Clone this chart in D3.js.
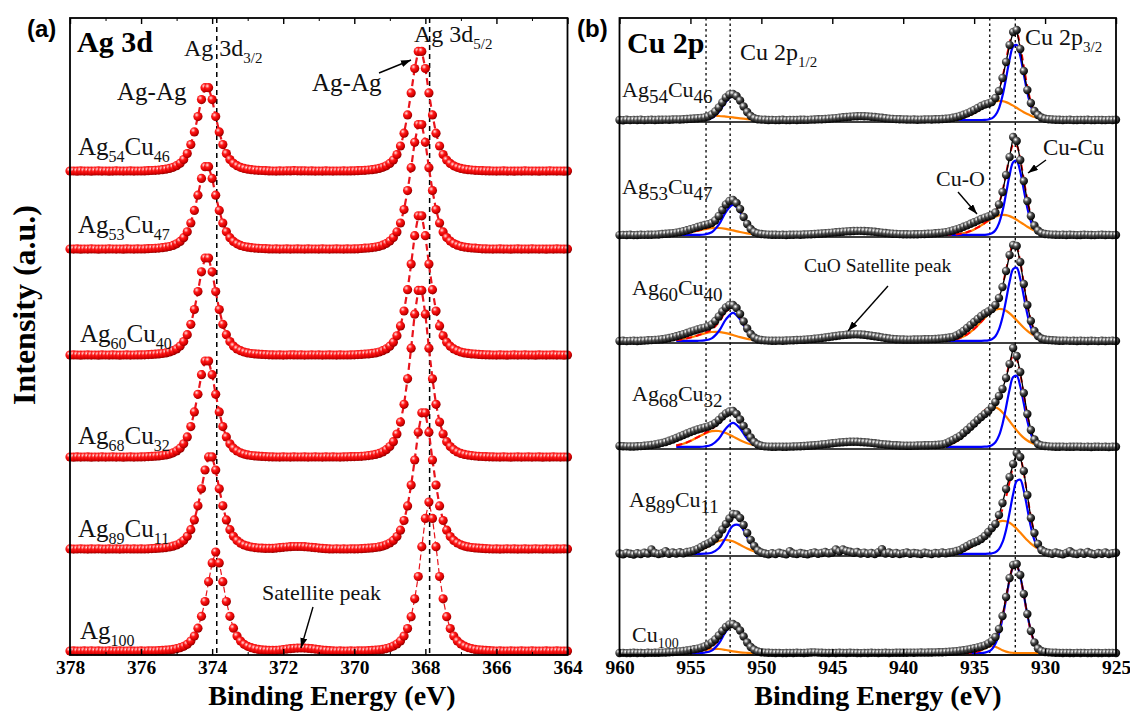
<!DOCTYPE html>
<html>
<head>
<meta charset="utf-8">
<script src="https://cdn.jsdelivr.net/npm/d3@7"></script>
<style>
  body { margin: 0; background: #fff; }
</style>
</head>
<body>
<script>
// ---------------- panel (a): Ag 3d, 378 -> 364 eV, 0.1 eV steps ----------------
const agLabels = [['Ag','54','Cu','46'], ['Ag','53','Cu','47'], ['Ag','60','Cu','40'],
                  ['Ag','68','Cu','32'], ['Ag','89','Cu','11'], ['Ag','100']];
const agOffset = [483.5, 405.5, 299.5, 197.5, 105.5, 3.5];
const agTicks = [378, 376, 374, 372, 370, 368, 366, 364];
const agMinor = [377, 375, 373, 371, 369, 367, 365];
const agRefLines = [373.87, 367.88];

const agS54 = [0.4,0.5,0.3,0.6,0.4,0.5,0.3,0.5,0.6,0.4,
 0.5,0.3,0.4,0.6,0.5,0.4,0.5,0.6,0.4,0.5,
 0.5,0.6,0.8,1.0,1.2,1.4,1.8,2.3,3.1,4.2,
 5.8,8.2,12.0,17.9,26.9,39.6,54.9,71.9,83.8,83.8,
 71.9,54.9,39.6,26.9,17.9,12.0,8.2,5.8,4.2,3.1,
 2.3,1.8,1.4,1.2,1.0,0.8,0.6,0.5,0.4,0.6,
 0.5,0.7,0.6,0.8,0.7,0.6,0.7,0.5,0.6,0.4,
 0.5,0.4,0.6,0.5,0.4,0.5,0.5,0.6,0.5,0.6,
 0.7,0.8,1.0,1.2,1.5,1.8,2.3,3.1,4.2,5.7,
 8.1,11.5,17.0,25.5,38.3,56.6,78.6,103.0,120.1,120.1,
 103.0,78.6,56.6,38.3,25.5,17.0,11.5,8.1,5.7,4.2,
 3.1,2.3,1.8,1.5,1.2,1.0,0.8,0.7,0.6,0.5,
 0.4,0.5,0.6,0.4,0.5,0.3,0.5,0.4,0.6,0.5,
 0.4,0.5,0.3,0.5,0.4,0.6,0.5,0.4,0.5,0.3,0.4];

const agS53 = [0.5,0.4,0.6,0.3,0.5,0.4,0.6,0.5,0.3,0.5,
 0.4,0.6,0.5,0.4,0.5,0.3,0.6,0.5,0.4,0.6,
 0.5,0.6,0.8,1.0,1.2,1.4,1.8,2.3,3.0,4.1,
 5.7,8.1,11.8,17.7,26.5,39.1,54.3,71.1,82.8,82.8,
 71.1,54.3,39.1,26.5,17.7,11.8,8.1,5.7,4.1,3.0,
 2.3,1.8,1.4,1.2,1.0,0.8,0.6,0.5,0.6,0.4,
 0.5,0.6,0.4,0.5,0.6,0.5,0.4,0.6,0.5,0.5,
 0.4,0.6,0.5,0.4,0.5,0.6,0.5,0.4,0.6,0.5,
 0.6,0.7,1.0,1.3,1.5,1.9,2.4,3.2,4.3,6.0,
 8.4,11.9,17.6,26.5,39.9,58.9,81.8,107.2,125.0,125.0,
 107.2,81.8,58.9,39.9,26.5,17.6,11.9,8.4,6.0,4.3,
 3.2,2.4,1.9,1.5,1.3,1.0,0.7,0.6,0.5,0.4,
 0.5,0.6,0.4,0.5,0.3,0.5,0.6,0.4,0.5,0.4,
 0.6,0.5,0.4,0.5,0.3,0.5,0.4,0.6,0.5,0.4,0.5];

const agS60 = [0.4,0.6,0.5,0.3,0.5,0.6,0.4,0.5,0.3,0.6,
 0.5,0.4,0.6,0.5,0.3,0.5,0.6,0.4,0.5,0.6,
 0.6,0.7,0.9,1.1,1.3,1.6,2.0,2.6,3.5,4.8,
 6.6,9.4,13.9,20.8,31.2,46.0,63.9,83.7,97.5,97.5,
 83.7,63.9,46.0,31.2,20.8,13.9,9.4,6.6,4.8,3.5,
 2.6,2.0,1.6,1.3,1.1,0.9,0.7,0.6,0.5,0.6,
 0.4,0.5,0.7,0.6,0.5,0.6,0.4,0.5,0.6,0.5,
 0.6,0.4,0.5,0.6,0.5,0.4,0.6,0.5,0.5,0.6,
 0.7,0.9,1.1,1.4,1.6,2.1,2.6,3.5,4.8,6.6,
 9.3,13.3,19.7,29.6,44.5,65.8,91.4,119.8,139.7,139.7,
 119.8,91.4,65.8,44.5,29.6,19.7,13.3,9.3,6.6,4.8,
 3.5,2.6,2.1,1.6,1.4,1.1,0.8,0.7,0.6,0.5,
 0.4,0.6,0.5,0.3,0.5,0.6,0.4,0.5,0.6,0.4,
 0.5,0.3,0.6,0.5,0.4,0.5,0.6,0.4,0.5,0.3,0.5];

const agS68 = [0.5,0.3,0.6,0.4,0.5,0.6,0.3,0.5,0.4,0.6,
 0.4,0.5,0.6,0.4,0.5,0.3,0.5,0.6,0.4,0.5,
 0.6,0.7,0.9,1.1,1.3,1.6,2.0,2.6,3.4,4.7,
 6.6,9.3,13.7,20.6,30.9,45.6,63.2,82.8,96.5,96.5,
 82.8,63.2,45.6,30.9,20.6,13.7,9.3,6.6,4.7,3.4,
 2.6,2.0,1.6,1.3,1.1,0.9,0.7,0.6,0.5,0.4,
 0.6,0.5,0.4,0.6,0.5,0.5,0.6,0.4,0.5,0.6,
 0.5,0.4,0.6,0.5,0.6,0.5,0.4,0.6,0.7,0.8,
 0.9,1.0,1.2,1.5,1.9,2.4,3.1,4.1,5.6,7.8,
 11.0,15.8,23.5,35.4,53.2,78.7,109.3,143.3,167.1,167.1,
 143.3,109.3,78.7,53.2,35.4,23.5,15.8,11.0,7.8,5.6,
 4.1,3.1,2.4,1.9,1.5,1.2,1.0,0.8,0.7,0.6,
 0.5,0.4,0.6,0.5,0.3,0.5,0.6,0.4,0.5,0.6,
 0.4,0.5,0.6,0.3,0.5,0.4,0.6,0.5,0.4,0.5,0.4];

const agS89 = [0.6,0.4,0.5,0.7,0.5,0.4,0.6,0.5,0.7,0.5,
 0.4,0.6,0.5,0.6,0.4,0.5,0.7,0.5,0.6,0.5,
 0.6,0.5,0.7,0.9,1.1,1.3,1.5,1.9,2.5,3.3,
 4.5,6.3,9.0,13.2,19.8,29.6,43.7,60.7,79.5,92.6,
 92.6,79.5,60.7,43.7,29.6,19.8,13.2,9.0,6.3,4.5,
 3.3,2.5,1.9,1.5,1.3,1.1,1.2,1.1,1.4,1.8,
 2.2,2.5,2.8,3.0,3.0,3.0,2.8,2.5,2.2,1.8,
 1.4,1.1,0.8,0.6,0.5,0.7,0.5,0.6,0.5,0.7,
 0.6,0.7,0.8,1.1,1.3,1.6,2.0,2.6,3.4,4.7,
 6.5,9.1,13.0,19.3,29.0,43.6,64.4,89.5,117.3,136.7,
 136.7,117.3,89.5,64.4,43.6,29.0,19.3,13.0,9.1,6.5,
 4.7,3.4,2.6,2.0,1.6,1.3,1.1,0.8,0.7,0.5,
 0.6,0.4,0.5,0.7,0.5,0.6,0.4,0.5,0.6,0.4,
 0.5,0.7,0.5,0.4,0.6,0.5,0.4,0.6,0.5,0.7,0.5];

const agS100 = [0.5,0.6,0.4,0.5,0.6,0.5,0.7,0.5,0.6,0.4,
 0.5,0.6,0.5,0.4,0.6,0.5,0.5,0.6,0.4,0.5,
 0.6,0.5,0.6,0.7,0.6,0.9,1.1,1.3,1.6,2.1,
 2.8,3.8,5.2,7.2,10.4,15.4,23.3,35.2,50.0,69.8,
 88.6,99.5,88.6,69.8,50.0,35.2,23.3,15.4,10.4,7.2,
 5.2,3.8,2.8,2.1,1.6,1.3,1.1,1.2,1.1,1.5,
 1.9,2.4,2.8,3.2,3.4,3.5,3.4,3.2,2.8,2.4,
 1.9,1.5,1.1,0.8,0.6,0.5,0.6,0.4,0.5,0.6,
 0.5,0.6,0.7,0.6,0.8,1.1,1.4,1.7,2.1,2.9,
 3.9,5.4,7.5,10.6,15.4,22.9,34.8,52.7,75.0,104.8,
 133.1,149.5,133.1,104.8,75.0,52.7,34.8,22.9,15.4,10.6,
 7.5,5.4,3.9,2.9,2.1,1.7,1.4,1.1,0.8,0.6,
 0.5,0.6,0.4,0.5,0.6,0.5,0.4,0.6,0.5,0.4,
 0.6,0.5,0.4,0.5,0.6,0.4,0.5,0.6,0.5,0.4,0.5];

const agSeries = [agS54, agS53, agS60, agS68, agS89, agS100];

// ---------------- panel (b): Cu 2p, 960 -> 925 eV, 0.25 eV steps ----------------
const cuLabels = [['Ag','54','Cu','46'], ['Ag','53','Cu','47'], ['Ag','60','Cu','40'],
                  ['Ag','68','Cu','32'], ['Ag','89','Cu','11'], ['Cu','100']];
const cuOffset = [534, 419, 313, 207, 100, 1];
const cuBg = [1.0, 1.1, 1.2, 1.2, 1.2, 1.0];
const cuTicks = [960, 955, 950, 945, 940, 935, 930, 925];
const cuRefLines = [953.9, 952.2, 933.9, 932.1];

const cuS54 = [1.0,0.8,1.2,0.9,1.1,1.0,1.3,0.9,1.1,1.2,
 1.0,1.3,1.2,1.4,1.3,1.5,1.6,1.5,1.8,2.0,
 2.2,2.5,2.8,3.1,3.5,4.5,6.5,9.5,13.5,18.5,
 23.5,26.5,27.0,25.0,20.5,14.5,9.0,5.0,2.8,1.8,
 1.4,1.2,1.0,1.1,0.9,1.0,1.2,0.9,1.0,1.1,
 1.0,1.2,1.3,1.1,1.4,1.5,1.7,1.8,2.0,2.3,
 2.6,2.9,3.3,3.7,4.0,4.3,4.6,4.8,4.9,4.8,
 4.6,4.3,4.0,3.6,3.2,2.8,2.4,2.1,1.9,1.7,
 1.6,1.5,1.4,1.5,1.3,1.4,1.5,1.6,1.5,1.7,
 1.8,2.0,2.2,2.6,3.2,4.0,5.0,6.2,7.6,9.2,
 11.0,13.0,15.0,16.5,17.5,19.0,23.0,30.0,43.0,59.0,
 76.0,89.0,91.0,72.0,50.0,31.0,18.0,10.0,6.0,3.5,
 2.2,1.8,1.5,1.3,1.2,1.0,1.1,1.2,0.9,1.0,
 1.1,1.0,1.2,0.9,1.0,1.1,1.0,0.9,1.1,1.0,1.2];

const cuS53 = [0.9,1.1,1.0,1.2,0.9,1.0,1.2,1.1,1.3,1.2,
 1.4,1.5,2.0,2.2,2.5,2.9,3.4,4.0,4.8,5.7,
 6.8,7.9,9.0,10.0,11.0,11.8,13.0,15.5,20.0,26.0,
 31.5,35.0,36.0,33.0,27.0,19.0,12.0,7.0,4.0,2.6,
 2.0,1.6,1.4,1.2,1.3,1.1,1.2,1.0,1.3,1.2,
 1.4,1.3,1.5,1.6,1.8,2.0,2.2,2.5,2.8,3.1,
 3.4,3.7,4.0,4.3,4.6,4.8,5.0,5.1,5.1,5.0,
 4.8,4.5,4.2,3.8,3.4,3.0,2.6,2.3,2.1,1.9,
 1.8,1.7,1.6,1.8,1.7,1.9,2.0,2.2,2.4,2.7,
 3.0,3.4,3.9,4.6,5.5,6.6,7.8,9.2,10.6,12.2,
 13.8,15.4,17.0,18.4,19.5,20.8,23.5,31.5,44.0,61.0,
 79.0,99.0,95.0,76.0,55.0,35.0,20.0,10.5,5.5,3.0,
 2.0,1.6,1.4,1.2,1.1,1.3,1.0,1.2,1.1,0.9,
 1.0,1.2,1.1,1.0,0.9,1.1,1.2,1.0,1.1,0.9,1.0];

const cuS60 = [1.0,1.2,0.9,1.1,1.3,1.0,1.2,1.4,1.8,1.9,
 2.1,2.4,2.8,3.3,4.0,4.8,5.7,6.7,7.8,9.0,
 10.2,11.4,12.5,13.5,14.4,15.5,17.5,21.0,25.5,30.5,
 34.5,37.0,37.0,34.0,28.0,20.5,13.5,8.0,4.5,2.8,
 2.0,1.6,1.4,1.3,1.2,1.4,1.3,1.5,1.6,1.8,
 2.0,2.1,2.3,2.6,2.9,3.2,3.6,4.0,4.5,5.0,
 5.5,6.0,6.5,6.9,7.2,7.5,7.6,7.6,7.5,7.2,
 6.8,6.3,5.8,5.2,4.6,4.0,3.5,3.1,2.8,2.6,
 2.5,2.4,2.4,2.5,2.5,2.6,2.7,2.8,2.9,3.0,
 3.2,3.6,4.0,4.5,5.0,6.5,8.5,11.0,14.0,17.0,
 20.0,23.0,26.0,28.5,30.5,33.0,37.0,44.0,55.0,71.0,
 87.0,97.0,96.0,80.0,58.0,37.0,21.0,11.0,6.0,3.5,
 2.5,2.0,1.7,1.5,1.3,1.2,1.4,1.1,1.2,1.0,
 1.3,1.1,1.0,1.2,1.1,0.9,1.2,1.0,1.1,1.2,1.0];

const cuS68 = [2.0,1.8,1.6,1.5,1.5,1.7,1.9,2.2,2.6,3.0,
 3.6,4.3,5.1,6.0,7.2,8.5,10.0,11.5,13.0,14.5,
 16.0,17.2,18.5,19.5,20.5,21.5,23.0,25.0,28.0,31.5,
 34.5,36.5,37.0,34.0,28.5,22.0,16.0,10.5,6.0,3.5,
 2.2,1.6,1.4,1.3,1.2,1.4,1.3,1.2,1.4,1.5,
 1.6,1.8,2.0,2.2,2.5,2.8,3.1,3.5,3.9,4.3,
 4.7,5.1,5.5,5.8,6.0,6.2,6.3,6.2,6.0,5.8,
 5.5,5.1,4.7,4.3,3.9,3.5,3.2,2.9,2.7,2.5,
 2.4,2.3,2.3,2.4,2.5,2.6,2.7,2.8,2.9,3.0,
 3.2,3.6,4.5,6.2,8.0,10.0,12.0,15.0,18.0,21.2,
 24.5,28.0,31.0,34.0,37.0,41.0,46.0,52.0,59.0,70.0,
 84.0,100.0,92.0,76.0,55.0,34.0,18.0,8.5,4.0,2.5,
 2.0,1.6,1.4,1.3,1.2,1.4,1.1,1.3,1.2,1.4,
 1.2,1.1,1.3,1.0,1.2,1.3,1.1,1.2,1.0,1.3,1.2];

const cuS89 = [1.5,0.8,2.0,1.2,0.5,1.8,1.0,2.2,1.4,5.5,
 2.0,1.0,1.8,3.8,1.2,2.5,1.5,2.8,1.8,3.0,
 3.5,4.5,6.0,8.0,10.0,11.5,13.5,16.5,20.5,25.5,
 31.0,36.5,41.0,40.5,37.0,30.0,22.0,15.0,9.0,4.5,
 2.5,1.5,0.8,1.8,1.0,2.2,1.4,0.6,3.8,1.5,
 1.0,2.0,1.2,0.7,1.8,2.6,1.3,2.0,3.0,1.8,
 2.5,5.5,3.5,5.5,4.0,3.2,2.2,3.0,1.5,2.4,
 1.2,2.0,1.0,2.8,5.8,1.5,2.5,1.2,2.0,1.0,
 1.8,2.6,1.2,2.0,1.5,1.0,2.3,1.6,1.0,2.0,
 1.5,2.5,1.8,2.5,3.0,4.0,5.0,7.0,9.0,11.0,
 12.5,14.0,16.0,19.0,23.0,27.0,31.0,40.0,52.0,66.0,
 78.0,91.0,102.0,98.0,84.0,60.0,37.0,22.0,11.0,5.0,
 3.0,2.0,1.2,2.5,1.5,0.8,2.0,3.8,1.5,1.0,
 2.2,1.2,3.0,1.5,0.8,2.0,1.2,2.5,1.0,1.8,2.2];

const cuS100 = [1.0,1.1,0.9,1.0,1.2,1.0,1.1,0.9,1.2,1.1,
 1.2,1.3,1.4,1.5,1.7,1.9,2.2,2.6,3.0,3.5,
 4.1,4.7,5.4,6.3,7.5,9.2,11.5,14.5,18.5,23.0,
 27.0,29.5,30.0,28.0,23.5,17.5,11.5,7.0,4.2,2.6,
 1.8,1.4,1.2,1.1,1.0,1.1,0.9,1.0,1.1,1.0,
 1.2,1.1,1.0,1.3,1.5,1.6,1.4,1.2,1.1,1.0,
 1.1,1.0,1.2,1.1,1.0,1.2,1.1,1.0,0.9,1.1,
 1.0,1.2,1.1,1.0,1.1,1.2,1.0,1.1,1.2,1.3,
 1.2,1.3,1.4,1.3,1.4,1.5,1.4,1.5,1.5,1.6,
 1.7,1.8,2.0,2.2,2.5,2.8,3.2,3.7,4.3,5.0,
 5.8,6.6,7.5,8.6,10.5,13.0,17.0,25.0,38.0,57.0,
 76.0,89.0,90.0,79.0,60.0,40.0,23.0,11.5,5.5,3.0,
 2.0,1.6,1.4,1.2,1.1,1.0,1.1,1.0,0.9,1.1,
 1.0,1.1,0.9,1.0,1.1,1.0,0.9,1.1,1.0,1.1,1.0];

const cuSeries = [cuS54, cuS53, cuS60, cuS68, cuS89, cuS100];

// fitted components, Cu 2p3/2 window 937 -> 929.5 eV (0.25 eV)
const blue32 = [
 [0,0,0,0,0,0,0,0,0,0,0,0.1,0.5,1.6,4.8,11.7,24.2,41.8,60.6,73.6,74.9,63.9,45.7,27.4,13.8,5.8,2.1,0.6,0.2,0,0],
 [0,0,0,0,0,0,0,0,0,0,0,0.1,0.5,1.6,4.7,11.6,23.9,41.3,59.8,72.7,74.0,63.1,45.1,27.0,13.6,5.7,2.0,0.6,0.2,0,0],
 [0,0,0,0,0,0,0,0,0,0,0,0.1,0.4,1.6,4.6,11.4,23.5,40.7,59.0,71.7,73.0,62.2,44.5,26.6,13.4,5.6,2.0,0.6,0.1,0,0],
 [0,0,0,0,0,0,0,0,0,0,0,0.1,0.4,1.5,4.5,11.1,22.9,39.6,57.4,69.8,71.0,60.6,43.3,25.9,13.0,5.5,1.9,0.6,0.1,0,0],
 [0,0,0,0,0,0,0,0,0,0,0,0,0.1,0.5,1.6,4.7,11.6,23.9,41.3,59.8,72.7,74.0,63.1,45.1,27.0,13.6,5.7,2.0,0.6,0.2,0],
 [0,0,0,0,0,0,0,0,0,0,0,0.4,1.4,3.8,9.2,19.1,34.6,54.0,73.1,85.7,86.9,76.4,58.1,38.2,21.8,10.7,4.6,1.7,0.5,0.2,0]];
const orange32 = [
 [0.2,0.4,0.7,1.1,1.7,2.6,3.7,5.2,7.0,9.1,11.3,13.5,15.6,17.3,18.5,19.0,18.8,17.9,16.3,14.4,12.2,9.9,7.8,5.9,4.3,3.0,2.0,1.3,0.8,0.5,0.3],
 [0.1,0.2,0.4,0.7,1.1,1.8,2.7,3.9,5.5,7.4,9.5,11.9,14.2,16.4,18.2,19.5,20.0,19.8,18.8,17.2,15.1,12.8,10.5,8.2,6.2,4.5,3.1,2.1,1.4,0.9,0.5],
 [0.4,0.7,1.1,1.8,2.8,4.3,6.3,8.8,11.8,15.3,19.0,22.8,26.3,29.2,31.1,32.0,31.6,30.1,27.5,24.2,20.5,16.7,13.1,9.9,7.2,5.0,3.4,2.2,1.4,0.8,0.5],
 [1.4,2.3,3.6,5.4,7.8,11.0,14.8,19.1,23.8,28.5,32.8,36.4,38.9,40.0,39.5,37.6,34.4,30.3,25.7,20.9,16.4,12.4,9.0,6.3,4.2,2.7,1.7,1.0,0.6,0.3,0.2],
 [0.2,0.4,0.7,1.2,1.9,2.9,4.5,6.5,9.0,12.2,15.7,19.6,23.5,27.1,30.1,32.1,33.0,32.6,31.0,28.4,25.0,21.2,17.3,13.5,10.2,7.4,5.2,3.5,2.2,1.4,0.9],
 [0,0,0,0,0,0,0,0.2,0.5,1.4,2.8,4.6,6.3,7.0,6.3,4.6,2.8,1.4,0.5,0.2,0,0,0,0,0,0,0,0,0,0,0]];
// fitted components, Cu 2p1/2 window 956 -> 949 eV (0.5 eV)
const blue12 = [
 [0,0,0,0,0.3,2.1,8.1,18.3,24,18.3,8.1,2.1,0.3,0,0],
 [0,0,0,0,0.4,2.6,10.2,22.9,30,22.9,10.2,2.6,0.4,0,0],
 [0,0,0,0,0.4,2.4,9.5,21.4,28,21.4,9.5,2.4,0.4,0,0],
 [0,0,0,0,0.3,2.1,8.1,18.3,24,18.3,8.1,2.1,0.3,0,0],
 [0,0,0,0,0.1,1.1,5.5,16.3,28.1,28.1,16.3,5.5,1.1,0.1,0],
 [0,0,0,0,0.4,2.4,9.5,21.4,28,21.4,9.5,2.4,0.4,0,0]];
const orange12 = [
 [0.4,0.8,1.5,2.4,3.3,3.9,4.0,3.4,2.6,1.6,0.9,0.4,0.2,0.1,0],
 [0.6,1.4,2.6,4.2,5.7,6.8,6.9,6.0,4.5,2.9,1.6,0.7,0.3,0.1,0],
 [0.8,1.8,3.3,5.3,7.4,8.8,8.9,7.7,5.8,3.7,2.0,1.0,0.4,0.1,0],
 [1.4,3.1,5.9,9.5,13.1,15.6,15.8,13.8,10.3,6.6,3.6,1.7,0.7,0.2,0.1],
 [0,0.2,0.8,2.5,5.5,9.5,12.8,14.0,12.5,9.0,5.2,2.4,0.8,0.2,0],
 [0,0.2,0.7,1.6,2.8,3.8,4.0,3.0,1.6,0.6,0.2,0,0,0,0]];

// ---------------- drawing ----------------
const serif = "'Liberation Serif', 'Times New Roman', serif";
const sans = "'Liberation Sans', Arial, sans-serif";
const width = 1130, height = 711;

const svg = d3.select('body').append('svg')
  .attr('width', width).attr('height', height)
  .style('background', '#fff');

const defs = svg.append('defs');
function ball(id, stops) {
  const g = defs.append('radialGradient').attr('id', id)
    .attr('cx', 0.36).attr('cy', 0.32).attr('r', 0.7);
  stops.forEach(s => g.append('stop').attr('offset', s[0]).attr('stop-color', s[1]));
}
ball('redBall', [[0, '#ffe8e8'], [0.13, '#ff9a9a'], [0.36, '#ff1a1a'], [0.75, '#d80000'], [1, '#8a0000']]);
ball('blackBall', [[0, '#ffffff'], [0.14, '#c8c8c8'], [0.4, '#505050'], [0.75, '#1a1a1a'], [1, '#000000']]);
defs.append('marker').attr('id', 'arrow')
  .attr('viewBox', '0 0 10 7').attr('refX', 10).attr('refY', 3.5)
  .attr('markerUnits', 'userSpaceOnUse').attr('markerWidth', 10).attr('markerHeight', 7)
  .attr('orient', 'auto')
  .append('path').attr('d', 'M0,0 L10,3.5 L0,7 Z').attr('fill', '#000');

function richText(g, x, y, parts, size, subSize, shift) {
  const t = g.append('text').attr('x', x).attr('y', y)
    .attr('font-family', serif).attr('font-size', size).attr('fill', '#111');
  parts.forEach((p, k) => {
    const sub = k % 2 === 1;
    t.append('tspan').attr('y', sub ? y + shift : y)
      .attr('font-size', sub ? subSize : size).text(p);
  });
  return t;
}

function arrow(g, x1, y1, x2, y2) {
  g.append('line').attr('x1', x1).attr('y1', y1).attr('x2', x2).attr('y2', y2)
    .attr('stroke', '#000').attr('stroke-width', 1.4).attr('marker-end', 'url(#arrow)');
}

function frameAxes(g, x, y, ticks, minor) {
  const [x0, x1] = x.range();
  const [yb, yt] = y.range();
  const bottom = g.append('g').attr('transform', `translate(0,${yb})`)
    .call(d3.axisBottom(x).tickValues(ticks).tickSize(-6).tickPadding(5).tickFormat(d3.format('d')));
  bottom.select('.domain').remove();
  bottom.selectAll('line').attr('stroke-width', 1.4);
  bottom.selectAll('text').attr('font-family', serif).attr('font-weight', 'bold')
    .attr('font-size', 19.5).attr('fill', '#000');
  const top = g.append('g').attr('transform', `translate(0,${yt})`)
    .call(d3.axisTop(x).tickValues(ticks).tickSize(-6).tickFormat(''));
  top.select('.domain').remove();
  top.selectAll('line').attr('stroke-width', 1.4);
  if (minor) {
    [[yb, d3.axisBottom], [yt, d3.axisTop]].forEach(([yy, ax]) => {
      const m = g.append('g').attr('transform', `translate(0,${yy})`)
        .call(ax(x).tickValues(minor).tickSize(-3).tickFormat(''));
      m.select('.domain').remove();
    });
  }
  g.append('rect').attr('x', x0).attr('y', yt).attr('width', x1 - x0).attr('height', yb - yt)
    .attr('fill', 'none').attr('stroke', '#000').attr('stroke-width', 1.8);
}

// ===== panel (a) =====
const xa = d3.scaleLinear().domain([378, 364]).range([70, 567.5]);
const ya = d3.scaleLinear().domain([0, 637]).range([655, 18]);
const agE = d3.range(agS54.length).map(i => 378 - i * 0.1);
const ga = svg.append('g');

agRefLines.forEach(e => {
  ga.append('line').attr('x1', xa(e)).attr('x2', xa(e)).attr('y1', 18).attr('y2', 655)
    .attr('stroke', '#000').attr('stroke-width', 1.5).attr('stroke-dasharray', '5,4');
});

agSeries.forEach((s, k) => {
  const pts = s.map((v, i) => [agE[i], agOffset[k] + v]);
  const isPure = k === agSeries.length - 1;
  ga.append('path').datum(pts)
    .attr('d', d3.line().x(d => xa(d[0])).y(d => ya(d[1])))
    .attr('fill', 'none').attr('stroke', '#e8141c')
    .attr('stroke-width', isPure ? 1.2 : 2.2)
    .attr('stroke-dasharray', isPure ? '6,3' : '7,4');
  ga.append('g').selectAll('circle').data(pts).join('circle')
    .attr('cx', d => xa(d[0])).attr('cy', d => ya(d[1])).attr('r', 4.6)
    .attr('fill', 'url(#redBall)');
});

frameAxes(ga, xa, ya, agTicks, agMinor);

ga.append('text').attr('x', 27).attr('y', 37).attr('font-family', sans)
  .attr('font-weight', 'bold').attr('font-size', 24).text('(a)');
ga.append('text').attr('x', 77).attr('y', 52).attr('font-family', serif)
  .attr('font-weight', 'bold').attr('font-size', 30).text('Ag 3d');
richText(ga, 184, 56, ['Ag 3d', '3/2'], 24, 15, 7);
richText(ga, 414, 42, ['Ag 3d', '5/2'], 24, 15, 7);
richText(ga, 117, 100, ['Ag-Ag'], 25, 15, 0);
richText(ga, 312, 91, ['Ag-Ag'], 25, 15, 0);
arrow(ga, 379, 73, 411, 60);
richText(ga, 262, 600, ['Satellite peak'], 22, 15, 0);
arrow(ga, 313, 607, 301, 648);

const agLabelPos = [[78, 155], [78, 233], [80, 342], [78, 444], [78, 537], [80, 639]];
agLabels.forEach((parts, k) => richText(ga, agLabelPos[k][0], agLabelPos[k][1], parts, 25, 16, 7));

ga.append('text').attr('transform', 'translate(35,305) rotate(-90)')
  .attr('text-anchor', 'middle').attr('font-family', serif).attr('font-weight', 'bold')
  .attr('font-size', 32).text('Intensity (a.u.)');
ga.append('text').attr('x', 332).attr('y', 705).attr('text-anchor', 'middle')
  .attr('font-family', serif).attr('font-weight', 'bold').attr('font-size', 28)
  .text('Binding Energy (eV)');

// ===== panel (b) =====
const xb = d3.scaleLinear().domain([960, 925]).range([619.5, 1116]);
const yb = d3.scaleLinear().domain([0, 637]).range([655, 18]);
const cuE = d3.range(cuS54.length).map(i => 960 - i * 0.25);
const fitE32 = d3.range(31).map(j => 937 - j * 0.25);
const fitE12 = d3.range(15).map(j => 956 - j * 0.5);
const gb = svg.append('g');

cuRefLines.forEach(e => {
  gb.append('line').attr('x1', xb(e)).attr('x2', xb(e)).attr('y1', 18).attr('y2', 655)
    .attr('stroke', '#000').attr('stroke-width', 1.3).attr('stroke-dasharray', '2.5,3');
});

// separators between stacked spectra
cuOffset.slice(0, -1).forEach(o => {
  gb.append('line').attr('x1', 619.5).attr('x2', 1116).attr('y1', yb(o - 1)).attr('y2', yb(o - 1))
    .attr('stroke', '#000').attr('stroke-width', 1.6);
});

const fitLine = d3.line().x(d => xb(d[0])).y(d => yb(d[1])).curve(d3.curveCatmullRom);

cuSeries.forEach((s, k) => {
  const base = cuOffset[k] + cuBg[k];
  const comp = (es, vals) => vals.map((v, j) => [es[j], base + v]);
  const env = (es, a, b) => a.map((v, j) => [es[j], base + v + b[j]]);
  [[fitE32, orange32[k], blue32[k]], [fitE12, orange12[k], blue12[k]]].forEach(([es, o, b]) => {
    gb.append('path').datum(comp(es, o)).attr('d', fitLine)
      .attr('fill', 'none').attr('stroke', '#ff8000').attr('stroke-width', 2.2);
    gb.append('path').datum(comp(es, b)).attr('d', fitLine)
      .attr('fill', 'none').attr('stroke', '#0000ff').attr('stroke-width', 2.2);
    gb.append('path').datum(env(es, b, o)).attr('d', fitLine)
      .attr('fill', 'none').attr('stroke', '#ff0000').attr('stroke-width', 2)
      .attr('stroke-dasharray', '6,4');
  });
  const pts = s.map((v, i) => [cuE[i], cuOffset[k] + v]);
  gb.append('path').datum(pts)
    .attr('d', d3.line().x(d => xb(d[0])).y(d => yb(d[1])))
    .attr('fill', 'none').attr('stroke', '#000').attr('stroke-width', 1.3);
  gb.append('g').selectAll('circle').data(pts).join('circle')
    .attr('cx', d => xb(d[0])).attr('cy', d => yb(d[1])).attr('r', 4.2)
    .attr('fill', 'url(#blackBall)');
});

frameAxes(gb, xb, yb, cuTicks, null);

gb.append('text').attr('x', 577).attr('y', 37).attr('font-family', sans)
  .attr('font-weight', 'bold').attr('font-size', 24).text('(b)');
gb.append('text').attr('x', 627).attr('y', 53).attr('font-family', serif)
  .attr('font-weight', 'bold').attr('font-size', 30).text('Cu 2p');
richText(gb, 740, 60, ['Cu 2p', '1/2'], 24, 15, 7);
richText(gb, 1025, 45, ['Cu 2p', '3/2'], 24, 15, 7);
richText(gb, 1043, 155, ['Cu-Cu'], 23, 15, 0);
arrow(gb, 1046, 160, 1028, 173);
richText(gb, 936, 186, ['Cu-O'], 22, 15, 0);
arrow(gb, 958, 192, 977, 214);
richText(gb, 804, 272, ['CuO Satellite peak'], 19.5, 12, 0);
arrow(gb, 888, 286, 848, 331);

const cuLabelPos = [[622, 97], [622, 194], [632, 295], [632, 401], [629, 507], [632, 642]];
cuLabels.forEach((parts, k) => {
  const pure = parts.length === 2;
  richText(gb, cuLabelPos[k][0], cuLabelPos[k][1], parts, 22, pure ? 14 : 19, 6);
});

gb.append('text').attr('x', 878).attr('y', 705).attr('text-anchor', 'middle')
  .attr('font-family', serif).attr('font-weight', 'bold').attr('font-size', 28)
  .text('Binding Energy (eV)');
</script>
</body>
</html>
